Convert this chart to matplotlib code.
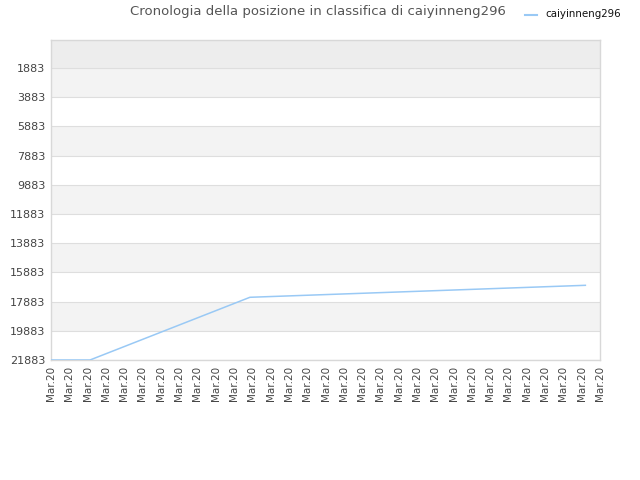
import numpy as np
import matplotlib
matplotlib.use("Agg")
from matplotlib import pyplot as plt

# data (x in day-slot units, y = rank)
pos_x = [0.0, 2.13, 10.87, 29.2]
rank = [21883, 21883, 17588, 16767]
y_ticks = [1883, 3883, 5883, 7883, 9883, 11883, 13883, 15883, 17883, 19883, 21883]
x_labels = ["Mar.20"] * 31
series_name = "caiyinneng296"
title = "Cronologia della posizione in classifica di caiyinneng296"

fig = plt.figure(figsize=(6.4, 4.8), dpi=100)
ax = fig.add_axes([51 / 640, 1 - 360 / 480, 549 / 640, 320 / 480])

y_top = -35
ax.set_ylim(21883, y_top)
ax.set_xlim(0, 30)

# alternating background bands
ax.axhspan(y_top, y_ticks[0], color="#ededed", zorder=0, lw=0)
for i in range(len(y_ticks) - 1):
    if i % 2 == 0:
        ax.axhspan(y_ticks[i], y_ticks[i + 1], color="#f3f3f3", zorder=0, lw=0)

for yt in y_ticks:
    ax.axhline(yt, color="#dedede", lw=0.8, zorder=1)

ax.plot(pos_x, rank, color="#99c9f5", lw=1.1, zorder=3, label=series_name)

ax.set_yticks(y_ticks)
ax.set_yticklabels([str(v) for v in y_ticks], fontsize=8, color="#444444")
ax.set_xticks(np.arange(len(x_labels)))
ax.set_xticklabels(x_labels, rotation=90, fontsize=7.5, color="#444444")
ax.tick_params(axis="both", length=0, pad=4)

for s in ax.spines.values():
    s.set_color("#d8d8d8")
    s.set_linewidth(1)

fig.text(318 / 640, 1 - 12 / 480, title, ha="center", va="center",
         fontsize=9.5, color="#555555")

# legend
fig.lines.append(plt.Line2D([525 / 640, 537 / 640], [1 - 15 / 480, 1 - 15 / 480],
                            color="#99c9f5", lw=1.5, transform=fig.transFigure))
fig.text(545 / 640, 1 - 14 / 480, series_name, ha="left", va="center",
         fontsize=7.4, color="#111111")

fig.savefig("out.png", dpi=100)
